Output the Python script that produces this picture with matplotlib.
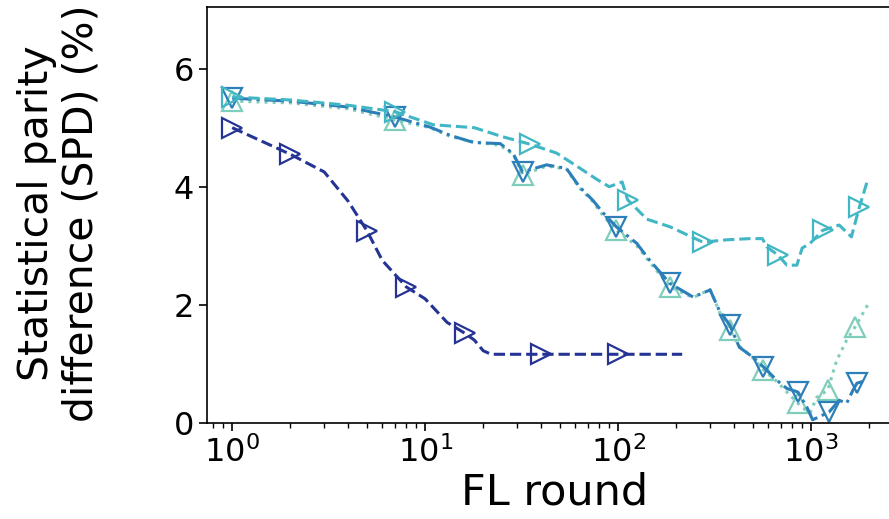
import matplotlib
matplotlib.use("Agg")
import matplotlib.pyplot as plt

# ---- data ----
navy_x = [1, 2, 3, 4, 5, 6, 8, 10, 13, 16, 18, 20, 22, 40, 100, 215]
navy_y = [5.0, 4.55, 4.25, 3.75, 3.25, 2.75, 2.3, 2.1, 1.7, 1.52, 1.4, 1.22, 1.16, 1.16, 1.16, 1.16]
navy_marks = [0, 1, 4, 6, 9, 13, 14]

cyan_x = [1, 2, 4, 7, 11, 18, 25, 35, 48, 61, 78, 90, 105, 112, 141, 186, 275, 366, 480,
          560, 590, 675, 750, 845, 900, 990, 1150, 1400, 1620, 1780, 1960]
cyan_y = [5.52, 5.47, 5.38, 5.27, 5.05, 5.0, 4.85, 4.72, 4.57, 4.35, 4.12, 4.0, 4.08, 3.78,
          3.45, 3.32, 3.06, 3.1, 3.12, 3.12, 2.98, 2.84, 2.67, 2.67, 2.96, 3.04, 3.26, 3.35,
          3.15, 3.65, 4.1]
cyan_marks = [0, 3, 7, 13, 16, 21, 26, 29]

blue_x = [1, 2, 4, 7, 10.6, 13.5, 17.8, 24.5, 28.6, 32, 42.6, 54, 63, 74, 84, 98, 125, 146,
          186, 245, 300, 335, 380, 425, 500, 565, 665, 750, 855, 950, 1020, 1100, 1240, 1400,
          1530, 1650, 1730, 1950]
blue_y = [5.5, 5.45, 5.35, 5.18, 5.01, 4.87, 4.75, 4.73, 4.56, 4.25, 4.37, 4.31, 4.0, 3.77,
          3.55, 3.32, 3.04, 2.75, 2.36, 2.13, 2.25, 1.9, 1.65, 1.28, 1.11, 0.95, 0.72, 0.58,
          0.52, 0.27, 0.05, 0.1, 0.18, 0.38, 0.33, 0.55, 0.67, 0.72]
blue_marks = [0, 3, 9, 15, 18, 22, 25, 28, 32, 36]

teal_x = [1, 2, 4, 7, 10.6, 13.5, 17.8, 24.5, 28.6, 32, 42.6, 54, 63, 74, 84, 98, 125, 146,
          186, 245, 300, 335, 380, 425, 500, 565, 665, 750, 855, 950, 990, 1070, 1220, 1360,
          1530, 1690, 1970]
teal_y = [5.45, 5.42, 5.32, 5.13, 5.0, 4.85, 4.76, 4.7, 4.55, 4.2, 4.35, 4.3, 3.98, 3.75,
          3.5, 3.26, 3.0, 2.72, 2.3, 2.12, 2.26, 1.88, 1.57, 1.3, 1.1, 0.9, 0.7, 0.52,
          0.33, 0.2, 0.17, 0.43, 0.55, 1.06, 1.4, 1.62, 2.0]
teal_marks = [0, 3, 9, 15, 18, 22, 25, 28, 32, 35]

xticks = [1, 10, 100, 1000]
yticks = [0, 2, 4, 6]

# ---- figure ----
fig = plt.figure(figsize=(8.89, 5.19), dpi=100)
ax = fig.add_axes([0.2328, 0.1855, 0.783, 0.8004])

lw = 2.2
ms = 15
mew = 1.6

ax.plot(teal_x, teal_y, ':', color='#7fcdbb', lw=lw, marker='^', ms=ms, mfc='none',
        mew=mew, markevery=teal_marks)
ax.plot(blue_x, blue_y, '-.', color='#2c7fb8', lw=lw, marker='v', ms=ms, mfc='none',
        mew=mew, markevery=blue_marks)
ax.plot(cyan_x, cyan_y, '--', color='#41b6c4', lw=lw, marker='>', ms=ms, mfc='none',
        mew=mew, markevery=cyan_marks)
ax.plot(navy_x, navy_y, '--', color='#253494', lw=lw, marker='>', ms=ms, mfc='none',
        mew=mew, markevery=navy_marks)

ax.set_xscale('log')
ax.set_xlim(0.74, 3000)
ax.set_ylim(0, 7.04)
ax.set_xticks(xticks)
ax.set_yticks(yticks)
ax.tick_params(axis='both', which='major', labelsize=23, length=6, width=1.2)
ax.tick_params(axis='x', which='minor', length=3.5, width=1.0)
for s in ax.spines.values():
    s.set_linewidth(1.2)

ax.set_xlabel('FL round', fontsize=31, labelpad=2)
ax.set_ylabel('Statistical parity\ndifference (SPD) (%)', fontsize=29.5, linespacing=1.12)
ax.yaxis.set_label_coords(-0.152, 0.505)

fig.savefig('out.png', dpi=100)
